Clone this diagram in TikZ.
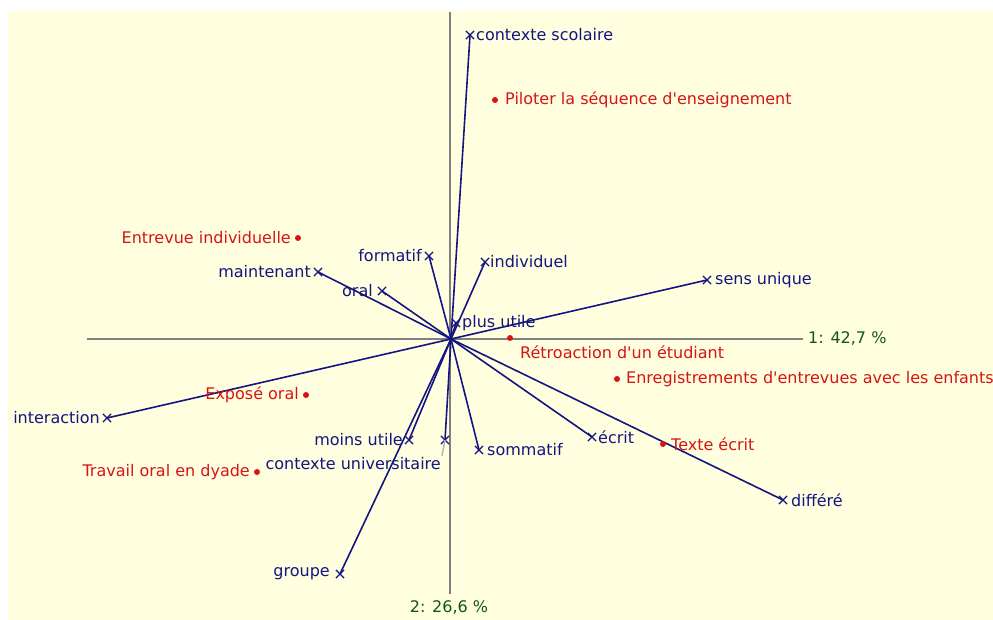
\documentclass[tikz,border=0pt]{standalone}
\usepackage{fontspec}
\setmainfont{DejaVu Sans}[Ligatures=TeXOff]
\usetikzlibrary{shapes.misc}
\definecolor{bgyellow}{RGB}{255,255,224}
\definecolor{navy}{RGB}{20,20,130}
\definecolor{redtxt}{RGB}{215,20,20}
\definecolor{axgreen}{RGB}{20,85,20}
\definecolor{axgray}{RGB}{128,128,128}
\begin{document}
\begin{tikzpicture}[x=1pt,y=-1pt,
  every node/.style={inner sep=0pt,font=\fontsize{16}{19}\selectfont},
  var/.style={cross out,draw=navy,line width=1.2pt,minimum size=7pt,inner sep=0pt},
  mod/.style={circle,fill=redtxt,minimum size=6pt,inner sep=0pt},
  vlab/.style={text=navy},
  mlab/.style={text=redtxt},
  axlab/.style={text=axgreen},
  vec/.style={draw=navy,line width=1.6pt},
  axis/.style={draw=axgray,line width=1.5pt}]
\useasboundingbox (0,0) rectangle (993,620);
\clip (0,0) rectangle (993,620);
\fill[white] (0,0) rectangle (993,620);
\fill[bgyellow] (8,11) rectangle (993,620);
% axes
\coordinate (axL) at (87,339);
\coordinate (axR) at (803,339);
\coordinate (axT) at (450,12);
\coordinate (axB) at (450,594);
\draw[axis] (axL) -- (axR);
\draw[axis] (axT) -- (axB);
\node[axlab,anchor=west] (ax1) at (808,338) {1: 42,7 \%};
\node[axlab,anchor=center] (ax2) at (449,607) {2: 26,6 \%};
\coordinate (O) at (451,339);
% variables (blue)
\node[var] (cs) at (470,35) {};
\node[var] (fo) at (429,256) {};
\node[var] (in) at (485,262) {};
\node[var] (ma) at (318,272) {};
\node[var] (or) at (382,291) {};
\node[var] (su) at (707,280) {};
\node[var] (pu) at (456,323) {};
\node[var] (it) at (107,418) {};
\node[var] (mu) at (409,440) {};
\node[var] (cu) at (445,440) {};
\node[var] (so) at (479,450) {};
\node[var] (ec) at (592,437) {};
\node[var] (di) at (783,500) {};
\node[var] (gr) at (340,574) {};
\foreach \n in {cs,fo,in,ma,or,su,pu,it,mu,cu,so,ec,di,gr}
  \draw[vec] (O) -- (\n.center);
\coordinate (cuend) at (442,456);
\draw[draw=axgray!60,line width=1.4pt] (cu.center) -- (cuend);
\node[vlab,anchor=west] (lcs) at (476,35) {contexte scolaire};
\node[vlab,anchor=east] (lfo) at (422,256) {formatif};
\node[vlab,anchor=west] (lin) at (490,262) {individuel};
\node[vlab,anchor=east] (lma) at (311,272) {maintenant};
\node[vlab,anchor=east] (lor) at (373,291) {oral};
\node[vlab,anchor=west] (lsu) at (715,280) {sens unique};
\node[vlab,anchor=west] (lpu) at (462,323) {plus utile};
\node[vlab,anchor=east] (lit) at (100,418) {interaction};
\node[vlab,anchor=east] (lmu) at (403,440) {moins utile};
\node[vlab,anchor=east] (lcu) at (441,464) {contexte universitaire};
\node[vlab,anchor=west] (lso) at (487,450) {sommatif};
\node[vlab,anchor=west] (lec) at (598,437) {écrit};
\node[vlab,anchor=west] (ldi) at (791,500) {différé};
\node[vlab,anchor=east] (lgr) at (330,574) {groupe};
% modalities (red)
\node[mod] (pi) at (495,100) {};
\node[mod] (ei) at (298,238) {};
\node[mod] (re) at (510,338) {};
\node[mod] (en) at (617,379) {};
\node[mod] (ex) at (306,395) {};
\node[mod] (tr) at (257,472) {};
\node[mod] (te) at (663,444) {};
\node[mlab,anchor=west] (lpi) at (505,100) {Piloter la séquence d'enseignement};
\node[mlab,anchor=east] (lei) at (291,238) {Entrevue individuelle};
\node[mlab,anchor=west] (lre) at (520,352) {Rétroaction d'un étudiant};
\node[mlab,anchor=west] (len) at (626,379) {Enregistrements d'entrevues avec les enfants};
\node[mlab,anchor=east] (lex) at (299,395) {Exposé oral};
\node[mlab,anchor=east] (ltr) at (250,472) {Travail oral en dyade};
\node[mlab,anchor=west] (lte) at (671,444) {Texte écrit};
\end{tikzpicture}
\end{document}
